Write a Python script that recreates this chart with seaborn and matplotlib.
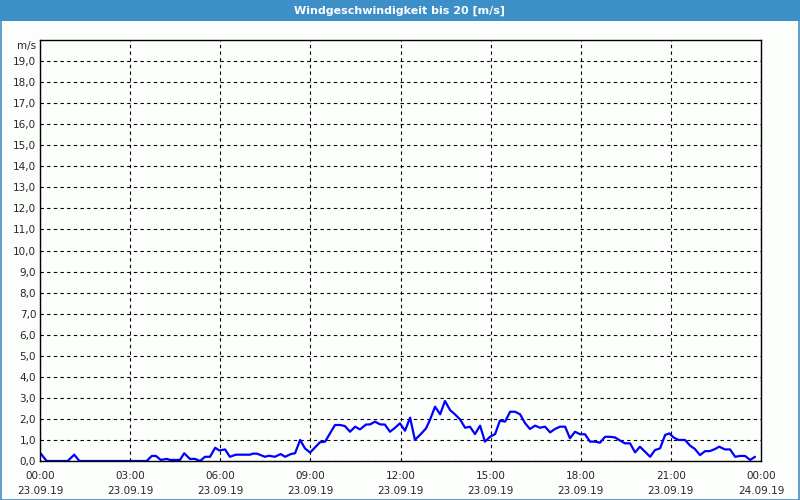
import matplotlib
matplotlib.use("Agg")
import matplotlib.pyplot as plt
import seaborn as sns
import pandas as pd
from matplotlib.patches import Rectangle

hours = [0.0, 0.22, 0.92, 1.14, 1.31, 3.55, 3.72, 3.86, 4.02, 4.22, 4.33, 4.66, 4.80, 4.99,
         5.16, 5.33, 5.49, 5.66, 5.83, 5.97, 6.16, 6.32, 6.52, 6.99, 7.09, 7.22, 7.49, 7.62,
         7.82, 8.01, 8.16, 8.35, 8.49, 8.66, 8.82, 8.99, 9.32, 9.49, 9.82, 9.99, 10.15, 10.32,
         10.49, 10.65, 10.85, 10.99, 11.15, 11.32, 11.48, 11.65, 11.82, 11.98, 12.15, 12.32,
         12.48, 12.65, 12.85, 12.98, 13.15, 13.32, 13.48, 13.65, 13.81, 13.98, 14.15, 14.31,
         14.48, 14.65, 14.81, 14.98, 15.15, 15.31, 15.48, 15.65, 15.81, 15.98, 16.15, 16.31,
         16.48, 16.64, 16.81, 16.98, 17.14, 17.31, 17.48, 17.64, 17.81, 17.98, 18.14, 18.31,
         18.48, 18.64, 18.81, 18.97, 19.14, 19.31, 19.47, 19.64, 19.81, 19.97, 20.14, 20.31,
         20.47, 20.64, 20.81, 20.95, 21.09, 21.25, 21.47, 21.64, 21.80, 21.97, 22.14, 22.30,
         22.47, 22.61, 22.80, 22.97, 23.14, 23.30, 23.47, 23.64, 23.80]
speed = [0.4, 0.0, 0.0, 0.3, 0.0, 0.0, 0.24, 0.24, 0.05, 0.1, 0.05, 0.05, 0.37, 0.1,
         0.1, 0.0, 0.2, 0.2, 0.63, 0.5, 0.55, 0.2, 0.3, 0.3, 0.35, 0.35, 0.2, 0.25,
         0.2, 0.33, 0.2, 0.33, 0.37, 1.0, 0.6, 0.4, 0.89, 0.92, 1.71, 1.71, 1.66, 1.39,
         1.63, 1.5, 1.73, 1.74, 1.87, 1.74, 1.73, 1.39, 1.58, 1.79, 1.44, 2.06,
         1.0, 1.24, 1.55, 1.95, 2.58, 2.22, 2.85, 2.42, 2.22, 1.98, 1.58, 1.63,
         1.28, 1.68, 0.92, 1.15, 1.28, 1.92, 1.87, 2.34, 2.34, 2.22, 1.79, 1.52,
         1.68, 1.58, 1.63, 1.36, 1.52, 1.63, 1.63, 1.08, 1.39, 1.27, 1.27, 0.92,
         0.92, 0.87, 1.15, 1.15, 1.12, 0.97, 0.84, 0.84, 0.41, 0.68, 0.44, 0.2,
         0.52, 0.6, 1.24, 1.31, 1.12, 1.0, 1.0, 0.73, 0.57, 0.28, 0.47, 0.47,
         0.57, 0.68, 0.55, 0.55, 0.2, 0.24, 0.24, 0.05, 0.2]

xtick_pos = [0, 3, 6, 9, 12, 15, 18, 21, 24]
xtick_labels = ["00:00\n23.09.19", "03:00\n23.09.19", "06:00\n23.09.19", "09:00\n23.09.19",
                "12:00\n23.09.19", "15:00\n23.09.19", "18:00\n23.09.19", "21:00\n23.09.19",
                "00:00\n24.09.19"]
ytick_pos = list(range(0, 20))
ytick_labels = [f"{v},0" for v in ytick_pos]
title = "Windgeschwindigkeit bis 20 [m/s]"

sns.set_style("white")
plt.rcParams['font.family'] = ['DejaVu Sans']

bg = "#fcfefc"
fig = plt.figure(figsize=(8, 5), dpi=100, facecolor=bg)
ax = fig.add_axes([40/800, 1 - 461/500, 721/800, 421/500])
ax.set_facecolor(bg)

df = pd.DataFrame({"h": hours, "v": speed})
sns.lineplot(data=df, x="h", y="v", ax=ax, color="#0000ff", linewidth=1.6)

ax.set_xlim(0, 24)
ax.set_ylim(0, 20)
ax.set_xticks(xtick_pos)
ax.set_xticklabels(xtick_labels, fontsize=7.5, linespacing=1.6)
ax.set_xticks(range(0, 25), minor=True)
ax.set_yticks(ytick_pos)
ax.set_yticklabels(ytick_labels, fontsize=7.5)
ax.tick_params(axis="x", which="both", direction="out", length=3, width=1, color="black", pad=4)
ax.tick_params(axis="y", length=0, pad=2.8)
ax.set_xlabel("")
ax.set_ylabel("")
ax.grid(True, which="major", color="black", linestyle=(0, (3, 3)), linewidth=0.8)
for s in ax.spines.values():
    s.set_visible(True)
    s.set_color("black")
    s.set_linewidth(1.0)

ax.text(-4/721, 20 - 0.3, "m/s", transform=ax.transAxes if False else ax.get_yaxis_transform(),
        ha="right", va="center", fontsize=7.5)

# title bar and frame
bar_col = "#3c8fc7"
fig.patches.append(Rectangle((0, 1 - 21/500), 1, 21/500, transform=fig.transFigure,
                             facecolor=bar_col, edgecolor="none", zorder=0))
fig.patches.append(Rectangle((0.5/800, 0.5/500), 798.5/800, 499/500, transform=fig.transFigure,
                             facecolor="none", edgecolor=bar_col, linewidth=1.2, zorder=0))
fig.text(0.5, 1 - 10.5/500, title, ha="center", va="center", color="white",
         fontsize=8, fontweight="bold")

fig.savefig("out.png", dpi=100, facecolor=bg)
